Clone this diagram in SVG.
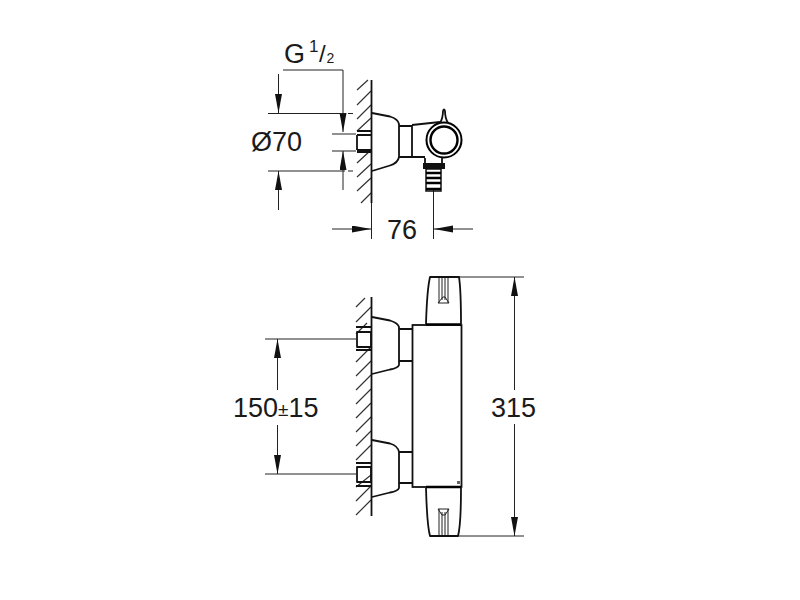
<svg xmlns="http://www.w3.org/2000/svg" width="800" height="600" viewBox="0 0 800 600">
<defs>
<style>
.t{font-family:"Liberation Sans",Arial,sans-serif;fill:#1a1a1a}
.dim{fill:none;stroke:#222;stroke-width:1}
.hatch{fill:none;stroke:#333;stroke-width:1.2}
.obj{fill:none;stroke:#111;stroke-width:1.8;stroke-linejoin:round}
.thin{fill:none;stroke:#222;stroke-width:1}
.thick{fill:none;stroke:#000;stroke-width:2.4}
.ah{fill:#111;stroke:none}
</style>
<marker id="a" markerWidth="20" markerHeight="8" refX="19" refY="3.5" orient="auto-start-reverse" markerUnits="userSpaceOnUse"><path class="ah" d="M0 0L19 3.5L0 7Z"/></marker>
</defs>
<rect width="800" height="600" fill="#fff"/>
<g id="connectors">
<path class="dim" d="M283 70H343V132" marker-end="url(#a)"/>
<path class="dim" d="M343 190V151" marker-end="url(#a)"/>
<path class="dim" d="M268 113.500H345M348 113.500H353M268 171H345M348 171H353M332 134H356M332 151H356"/>
<path class="dim" d="M278.500 74V113" marker-end="url(#a)"/>
<path class="dim" d="M278.500 210V171" marker-end="url(#a)"/>
<path class="dim" d="M332 229H371" marker-end="url(#a)"/>
<path class="dim" d="M473 229H434" marker-end="url(#a)"/>
<path class="dim" d="M371.500 200V239M433.500 190V239"/>
<path class="dim" d="M265 339H356M265 474H356"/>
<path class="dim" d="M277.500 390V339" marker-end="url(#a)"/>
<path class="dim" d="M277.500 425V474" marker-end="url(#a)"/>
<path class="dim" d="M430 277H524M457 536H524"/>
<path class="dim" d="M514.500 390V277" marker-end="url(#a)"/>
<path class="dim" d="M514.500 424V536" marker-end="url(#a)"/>
</g>
<g id="wall-top">
<path class="hatch" d="M357 90L368 80M357 105L371 91M357 119L371 105M357 131L371 118M357 163L371 150M357 177L371 164M357 191L371 178M361 203L371 193"/>
<path class="obj" d="M371.500 80V203"/>
</g>
<g id="valve-side">
<path class="obj" d="M372 113L390 116.500Q398 119 399 124V157Q398 163 390 165.500L372 171"/>
<path class="obj" d="M399 126H412M399 157H425M412 125V157"/>
<path class="obj" d="M412 125L440 122"/>
<path class="obj" d="M357 131H371M357 152H371"/>
<path class="obj" d="M357 135H371M357 150H371M357 135V150"/>
<circle cx="444" cy="140" r="17.500" fill="#fff" stroke="#000" stroke-width="2"/>
<circle class="thick" cx="444" cy="140" r="13.500"/>
<path class="obj" d="M440 123Q443 118 443 111Q444 108 445 111Q445 118 448 123"/>
<path class="obj" d="M425 158V163M442 158V163"/>
<rect x="423" y="163" width="22" height="6" fill="#111"/>
<rect x="426" y="169" width="15" height="22" fill="none" stroke="#111" stroke-width="1.500"/>
<path class="thick" d="M426 173H441M426 178H441M426 183H441M426 189H441"/>
</g>
<g id="wall-bottom">
<path class="hatch" d="M356 307L365 298M356 322L371 307M356 334L367 323M356 362L371 347M356 376L371 361M356 390L371 375M356 404L371 389M356 418L371 403M356 432L371 417M356 446L371 431M356 460L371 445M356 487L371 475M356 501L371 486M356 515L371 500"/>
<path class="obj" d="M371.500 297V516"/>
</g>
<g id="body-front">
<path class="obj" d="M372 317L390 320.500Q398 323 399 327V365Q398 368 390 369.500L372 374"/>
<path class="obj" d="M399 329H412M399 361H412"/>
<path class="obj" d="M372 440L390 443.500Q398 446 399 452V488Q398 491 390 492.500L372 497"/>
<path class="obj" d="M399 452H412M399 483H412"/>
<path class="obj" d="M356 327H371M356 350H371M357 332H371V347H357Z"/>
<path class="obj" d="M356 463H371M356 486H371M357 467H371V482H357Z"/>
<rect x="412.500" y="325" width="49" height="162" fill="none" stroke="#111" stroke-width="1.800"/>
<path class="thick" d="M426 324.500H461M426 487H461"/>
<path class="obj" d="M426 324Q427 290 430 277H459Q461 290 461 324"/>
<path class="obj" d="M426 488Q427 525 430 536H458Q461 525 461 488"/>
<path class="thin" d="M439 278V303M442 278V300M445 278V300M448 278V303M438 303L443 297H445L449 303Z"/>
<path class="thin" d="M439 509V535M442 512V535M445 512V535M448 509V535M438 509H449L445 515H442Z"/>
<rect x="457" y="481" width="3" height="3" fill="#666"/>
</g>
<g id="labels">
<text class="t" x="284" y="63" font-size="27">G</text>
<text class="t" x="309" y="52" font-size="17">1</text>
<text class="t" x="319" y="62" font-size="24">/</text>
<text class="t" x="326.500" y="63" font-size="14">2</text>
<text class="t" x="251" y="151" font-size="27">Ø70</text>
<text class="t" x="387" y="239" font-size="27">76</text>
<text class="t" x="233" y="417" font-size="27">150<tspan font-size="19" dy="-1">±</tspan><tspan dy="1">15</tspan></text>
<text class="t" x="491" y="417" font-size="27">315</text>
</g>
</svg>
